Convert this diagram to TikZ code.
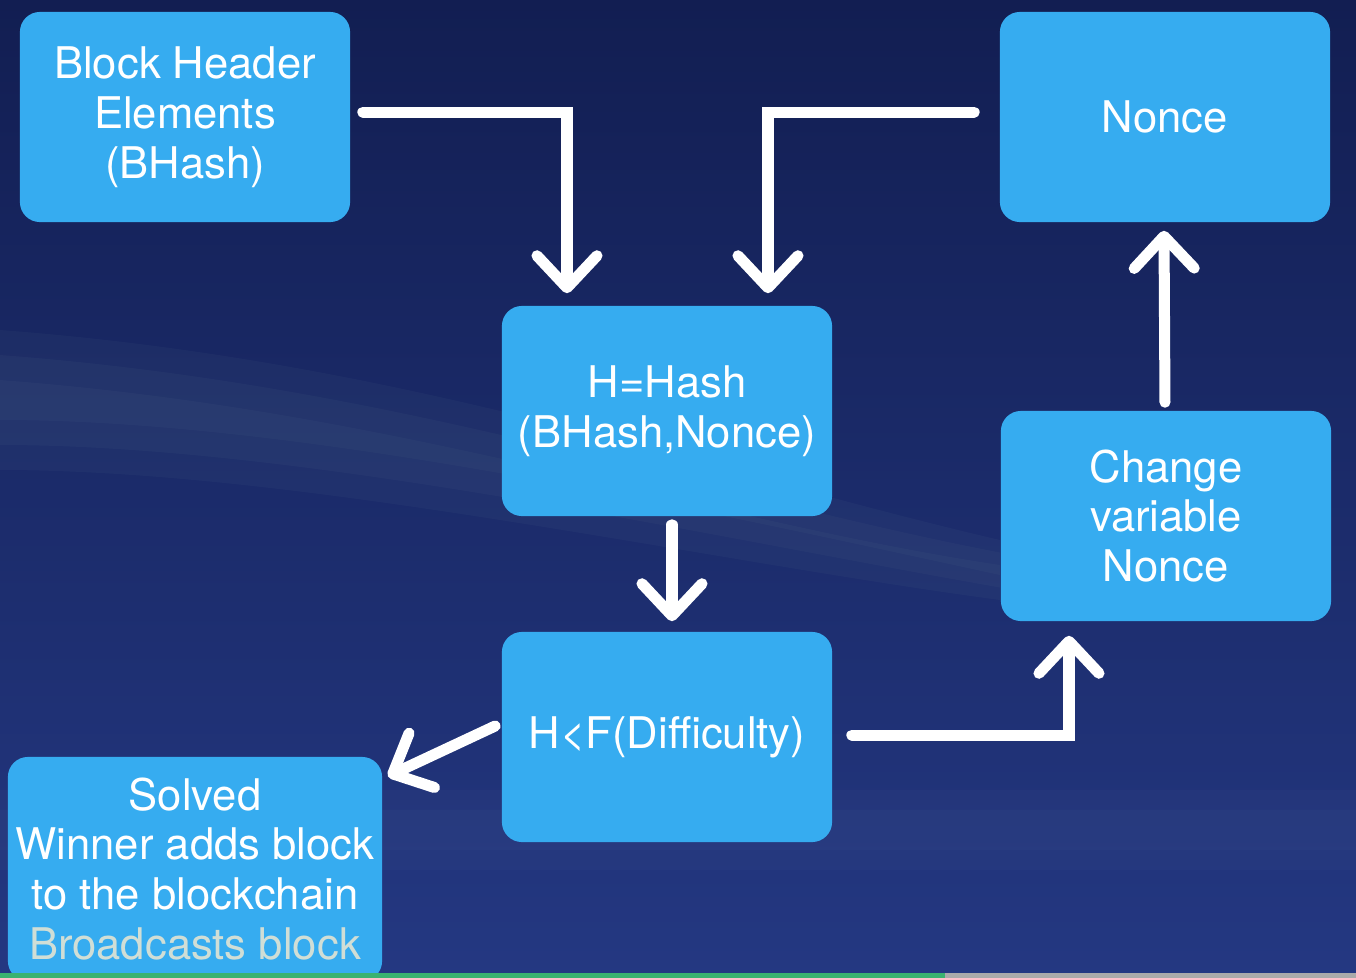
\documentclass[tikz,border=0pt]{standalone}
\usepackage{fontspec}
\setmainfont{TeX Gyre Heros}
\usetikzlibrary{arrows.meta,calc}

\definecolor{boxblue}{RGB}{54,172,240}
\definecolor{navytop}{RGB}{18,30,82}
\definecolor{navybot}{RGB}{36,56,130}
\definecolor{haze}{RGB}{120,150,160}
\definecolor{fadetext}{RGB}{208,222,214}
\definecolor{bargreen}{RGB}{58,178,112}
\definecolor{bargrey}{RGB}{170,170,170}

\begin{document}
\begin{tikzpicture}[x=0.01cm, y=-0.01cm,
	every node/.style={font=\fontsize{12.4}{14.2}\selectfont, text=white, align=center},
	box/.style={fill=boxblue, rounded corners=2mm, minimum width=3.3cm, minimum height=2.1cm, inner sep=0pt},
	flow/.style={draw=white, line width=0.11cm, line cap=round, -{Straight Barb[length=3.2mm,width=6mm,round]}}]
	\useasboundingbox (0,0) rectangle (1356,978);
	\clip (0,0) rectangle (1356,978);
	% background
	\shade[top color=navytop, bottom color=navybot] (0,0) rectangle (1356,978);
	\foreach \w in {0,25,50} {
		\fill[haze, opacity=0.06] (0,330+\w) .. controls (400,360+\w) and (700,470+\w) .. (1000,540+\w/2) -- (1000,600-\w/2) .. controls (700,560-\w) and (300,470-\w) .. (0,470-\w) -- cycle;
	}
	\fill[navybot!80!white, opacity=0.08] (0,790) rectangle (1356,870);
	\fill[navybot!80!white, opacity=0.08] (0,810) rectangle (1356,850);
	% boxes
	\node[box] (bh) at (185,117) {Block Header\\Elements\\(BHash)};
	\node[box] (nonce) at (1165,117) {Nonce};
	\node[box] (hash) at (667,411) {H=Hash\\(BHash,Nonce)};
	\node[box] (change) at (1166,516) {Change\\variable\\Nonce};
	\node[box] (diff) at (667,737) {H<F(Difficulty)};
	\node[box, minimum width=3.74cm, minimum height=2.24cm] (solved) at (195,869) {Solved\\Winner adds block\\to the blockchain\\{\color{fadetext}Broadcasts block}};
	% arrows
	\draw[flow] ($(bh.east)+(12,-5)$) -| ($(hash.north)+(-100,-12)$);
	\draw[flow] ($(nonce.west)+(-25,-5)$) -| ($(hash.north)+(101,-12)$);
	\draw[flow] ($(hash.south)+(5,8)$) -- ($(diff.north)+(5,-10)$);
	\draw[flow] ($(diff.west)+(-6,-11)$) -- ($(solved.north east)+(5,20)$);
	\draw[flow] ($(diff.east)+(19,-2)$) -| ($(change.south)+(-97,14)$);
	\draw[flow] ($(change.north)+(-1,-8)$) -- ($(nonce.south)+(-1,8)$);
	% progress bar
	\fill[bargreen] (0,973) rectangle (945,978);
	\fill[bargrey] (945,973) rectangle (1356,978);
\end{tikzpicture}
\end{document}
